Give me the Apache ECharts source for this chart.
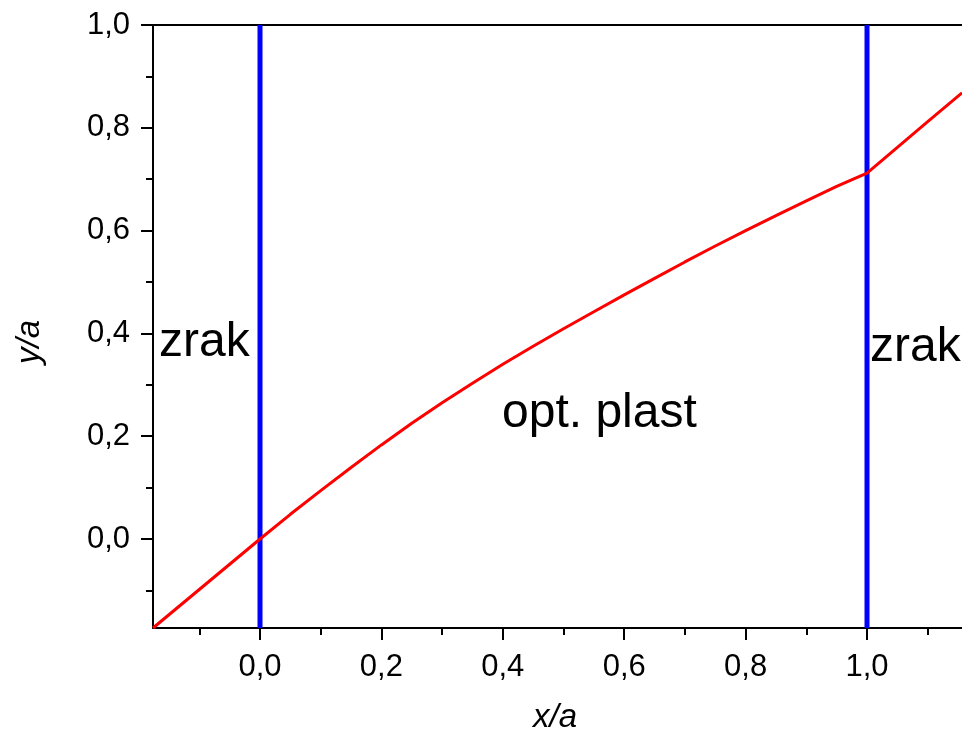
<!DOCTYPE html>
<html><head><meta charset="utf-8">
<script src="https://cdn.jsdelivr.net/npm/echarts@6/dist/echarts.min.js"></script>
<style>html,body{margin:0;padding:0;background:#fff;overflow:hidden}#c{width:962px;height:733px}</style>
</head><body><div id="c"></div>
<script>
// axis ranges
const xMin = -0.1763, xMax = 1.1565, yMin = -0.1732, yMax = 1.0;
// ray path (x/a, y/a)
const rayX = [-0.1763, 0, 0.05, 0.10, 0.15, 0.20, 0.25, 0.30, 0.35, 0.40, 0.45, 0.50, 0.55, 0.60, 0.65, 0.70, 0.75, 0.80, 0.85, 0.90, 0.95, 1.0, 1.05, 1.10, 1.1565];
const rayY = [-0.1732, 0, 0.048, 0.094, 0.139, 0.183, 0.225, 0.265, 0.303, 0.340, 0.375, 0.409, 0.442, 0.475, 0.507, 0.539, 0.570, 0.600, 0.629, 0.658, 0.686, 0.712, 0.762, 0.812, 0.868];
// layer boundaries
const boundaryX = [0, 1];
// ticks
const xMajorTicks = [0, 0.2, 0.4, 0.6, 0.8, 1.0];
const xMinorTicks = [-0.1, 0.1, 0.3, 0.5, 0.7, 0.9, 1.1];
const yMajorTicks = [0, 0.2, 0.4, 0.6, 0.8, 1.0];
const yMinorTicks = [-0.1, 0.1, 0.3, 0.5, 0.7, 0.9];
const regionLabels = ['zrak', 'opt. plast', 'zrak'];
const axisNames = ['x/a', 'y/a'];

const FONT = '"Liberation Sans", Arial, sans-serif';
const fmt = v => v.toFixed(1).replace('.', ',');

const chart = echarts.init(document.getElementById('c'), null, {renderer: 'canvas'});

const axLine = {show: true, onZero: false, lineStyle: {color: '#000', width: 2}};
const baseX = {type: 'value', min: xMin, max: xMax, splitLine: {show: false}};
const baseY = {type: 'value', min: yMin, max: yMax, splitLine: {show: false}};

const series = [{
  type: 'line',
  data: rayX.map((x, i) => [x, rayY[i]]),
  showSymbol: false,
  symbol: 'none',
  lineStyle: {color: '#ff0000', width: 3},
  z: 3,
  animation: false
}];
boundaryX.forEach(bx => series.push({
  type: 'line',
  data: [[bx, yMin], [bx, yMax]],
  symbol: 'none',
  lineStyle: {color: '#0000ff', width: 5},
  z: 2,
  animation: false
}));

chart.setOption({
  animation: false,
  backgroundColor: '#fff',
  grid: {left: 153, right: 0, top: 25, bottom: 105, containLabel: false},
  xAxis: [
    Object.assign({}, baseX, {
      position: 'bottom',
      axisLine: axLine,
      axisTick: {show: true, inside: false, length: 12, lineStyle: {color: '#000', width: 2}, customValues: xMajorTicks},
      axisLabel: {show: true, margin: 24, color: '#000', fontSize: 31, fontFamily: FONT, customValues: xMajorTicks, formatter: fmt}
    }),
    Object.assign({}, baseX, {
      position: 'bottom',
      axisLine: {show: false, onZero: false},
      axisTick: {show: true, inside: false, length: 7, lineStyle: {color: '#000', width: 2}, customValues: xMinorTicks},
      axisLabel: {show: false}
    }),
    Object.assign({}, baseX, {
      position: 'top',
      axisLine: axLine,
      axisTick: {show: false},
      axisLabel: {show: false}
    })
  ],
  yAxis: [
    Object.assign({}, baseY, {
      position: 'left',
      axisLine: axLine,
      axisTick: {show: true, inside: false, length: 12, lineStyle: {color: '#000', width: 2}, customValues: yMajorTicks},
      axisLabel: {show: true, margin: 23, color: '#000', fontSize: 31, fontFamily: FONT, customValues: yMajorTicks, formatter: fmt}
    }),
    Object.assign({}, baseY, {
      position: 'left',
      axisLine: {show: false, onZero: false},
      axisTick: {show: true, inside: false, length: 7, lineStyle: {color: '#000', width: 2}, customValues: yMinorTicks},
      axisLabel: {show: false}
    })
  ],
  graphic: [
    {type: 'text', left: 159, top: 319, z: 10, style: {text: regionLabels[0], font: '48px ' + FONT, fill: '#000'}},
    {type: 'text', left: 502, top: 390, z: 10, style: {text: regionLabels[1], font: '48px ' + FONT, fill: '#000'}},
    {type: 'text', left: 870, top: 324, z: 10, style: {text: regionLabels[2], font: '48px ' + FONT, fill: '#000'}},
    {type: 'text', x: 555, y: 718, z: 10, style: {text: axisNames[0], font: 'italic 33px ' + FONT, fill: '#000', align: 'center', verticalAlign: 'middle'}},
    {type: 'text', x: 30, y: 342, rotation: Math.PI / 2, z: 10, style: {text: axisNames[1], font: 'italic 33px ' + FONT, fill: '#000', align: 'center', verticalAlign: 'middle'}}
  ],
  series: series
});
</script>
</body></html>
